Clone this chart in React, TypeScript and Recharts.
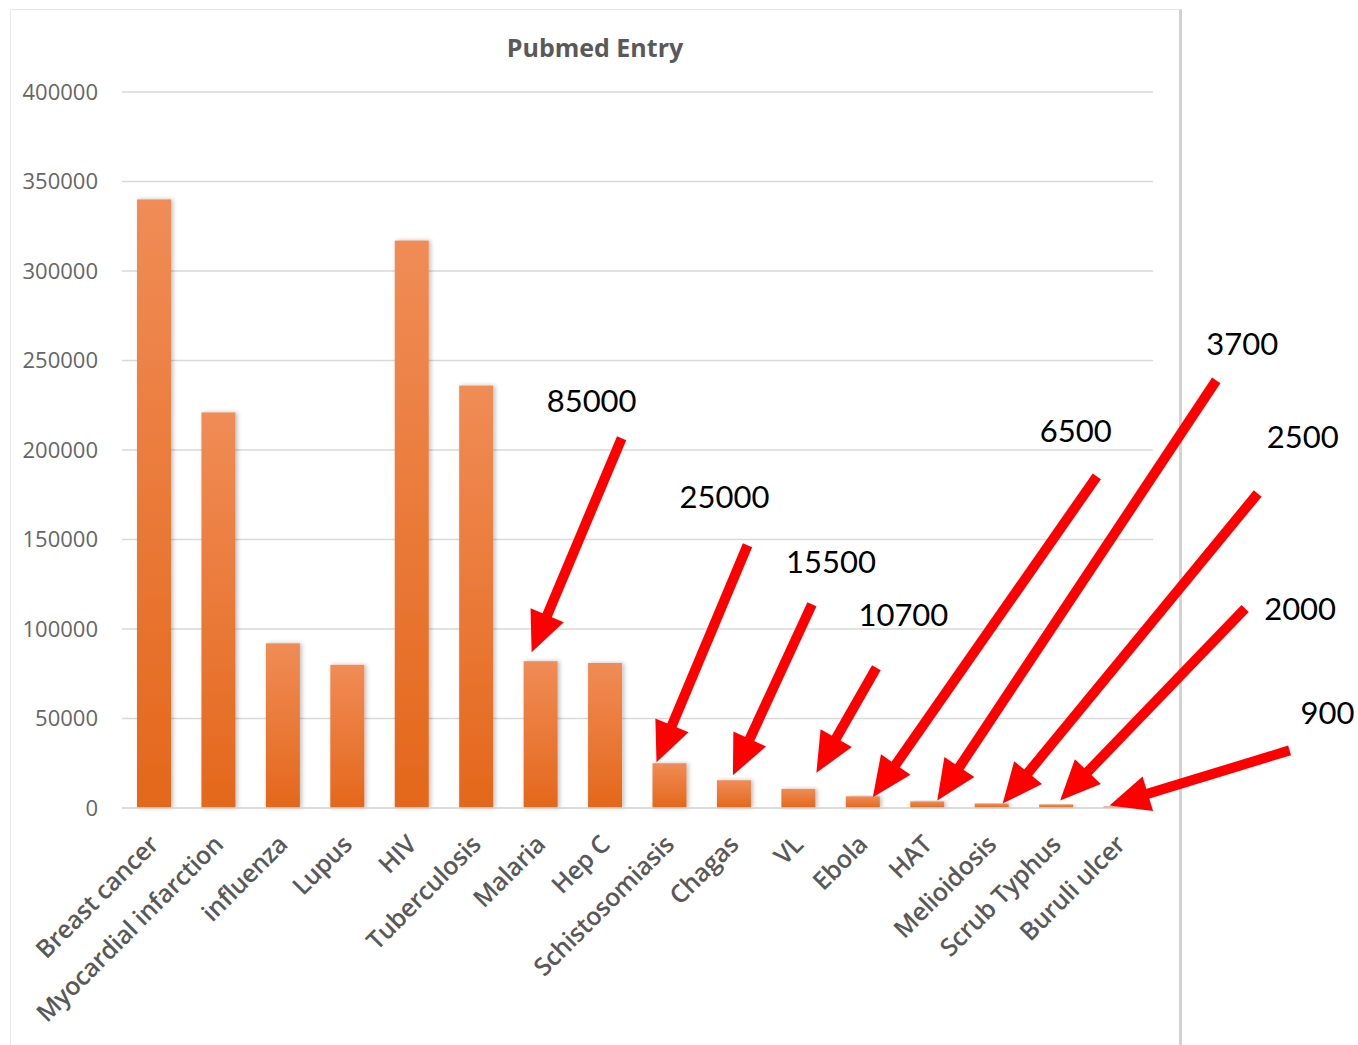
import React from 'react';
import { Bar, BarChart, CartesianGrid, LabelList, XAxis, YAxis } from 'recharts';

// reference values
const diseases = [
  'Breast cancer',
  'Myocardial infarction',
  'influenza',
  'Lupus',
  'HIV',
  'Tuberculosis',
  'Malaria',
  'Hep C',
  'Schistosomiasis',
  'Chagas',
  'VL',
  'Ebola',
  'HAT',
  'Melioidosis',
  'Scrub Typhus',
  'Buruli ulcer',
];
const entries = [
  340000, 221000, 92000, 80000, 317000, 236000, 82000, 81000, 25000, 15500, 10700, 6500,
  3700, 2500, 2000, 900,
];
const yTicks = [0, 50000, 100000, 150000, 200000, 250000, 300000, 350000, 400000];

// red callout labels
const calloutNames = [
  'Malaria',
  'Schistosomiasis',
  'Chagas',
  'VL',
  'Ebola',
  'HAT',
  'Melioidosis',
  'Scrub Typhus',
  'Buruli ulcer',
];
const calloutText = ['85000', '25000', '15500', '10700', '6500', '3700', '2500', '2000', '900'];

// arrow geometry, px offsets from the bar's top centre: tip, tail, label
const calloutGeom: number[][] = [
  [-9, -9, 81, -223, 51, -261],
  [-13, -1, 78, -218, 55, -267],
  [-1, -5, 78, -176, 97, -219],
  [18, -16, 78, -121, 105, -175],
  [10, 1, 234, -320, 213, -366],
  [10, -1, 289, -421, 315, -458],
  [11, 0, 266, -310, 311, -368],
  [4, -4, 189, -196, 244, -196],
  [-11, -1, 169, -56, 207, -94],
];

const data = diseases.map((name, i) => ({ name, value: entries[i] }));

const RED = '#ff0000';
const GREY = '#595959';

function Arrow(props: any) {
  const vb = props.viewBox || props;
  const k = calloutNames.indexOf(props.value);
  if (k < 0 || vb == null) return null;
  const [tdx, tdy, sdx, sdy, ldx, ldy] = calloutGeom[k];
  const cx = vb.x + vb.width / 2;
  const top = vb.y;
  const tx = cx + tdx;
  const ty = top + tdy;
  const sx = cx + sdx;
  const sy = top + sdy;
  const dx = tx - sx;
  const dy = ty - sy;
  const len = Math.sqrt(dx * dx + dy * dy);
  const ux = dx / len;
  const uy = dy / len;
  const head = 40;
  const half = 18;
  const bx = tx - ux * head;
  const by = ty - uy * head;
  const px = -uy;
  const py = ux;
  return (
    <g>
      <line x1={sx} y1={sy} x2={bx + ux * 4} y2={by + uy * 4} stroke={RED} strokeWidth={10} />
      <polygon
        points={`${tx},${ty} ${bx + px * half},${by + py * half} ${bx - px * half},${by - py * half}`}
        fill={RED}
      />
      <text
        x={cx + ldx}
        y={top + ldy}
        textAnchor="middle"
        dominantBaseline="central"
        fontFamily="Lato, 'Open Sans', sans-serif"
        fontSize={31}
        fill="#000"
      >
        {calloutText[k]}
      </text>
    </g>
  );
}

function CategoryTick({ x, y, payload }: any) {
  return (
    <g transform={`translate(${x + 6},${y + 30})`}>
      <text
        transform="rotate(-45)"
        textAnchor="end"
        fontFamily="'Open Sans', sans-serif"
        fontWeight={600}
        fontSize={25}
        letterSpacing={-0.3}
        fill={GREY}
      >
        {payload.value}
      </text>
    </g>
  );
}

function BarShape({ x, y, width, height }: any) {
  if (!height || height <= 0) return null;
  return <rect x={x} y={y} width={width} height={height} fill="url(#barFill)" filter="url(#barShadow)" />;
}

export default function App() {
  return (
    <div style={{ position: 'absolute', left: 0, top: 0, width: 1358, height: 1045, overflow: 'hidden', background: '#fff' }}>
      <div
        style={{
          position: 'absolute',
          left: 10,
          top: 9,
          width: 1168,
          height: 1100,
          borderLeft: '1px solid #e8e8e8',
          borderTop: '1px solid #e8e8e8',
          borderRight: '3px solid #d2d2d2',
        }}
      />
      <div
        style={{
          position: 'absolute',
          left: 10,
          width: 1170,
          top: 29,
          textAlign: 'center',
          fontFamily: "'Open Sans', sans-serif",
          fontWeight: 700,
          fontSize: 25,
          color: GREY,
          lineHeight: '36px',
        }}
      >
        Pubmed Entry
      </div>
      <div style={{ position: 'absolute', left: 0, top: 0 }}>
        <BarChart
          width={1358}
          height={1045}
          data={data}
          margin={{ top: 92, right: 205, left: 12, bottom: 7 }}
        >
          <defs>
            <linearGradient id="barFill" x1="0" y1="0" x2="0" y2="1">
              <stop offset="0%" stopColor="#f08c56" />
              <stop offset="100%" stopColor="#e4671b" />
            </linearGradient>
            <filter id="barShadow" x="-30%" y="-10%" width="160%" height="120%">
              <feDropShadow dx="2" dy="0" stdDeviation="2" floodColor="#000" floodOpacity="0.25" />
            </filter>
          </defs>
          <CartesianGrid vertical={false} stroke="#d9d9d9" strokeWidth={1.5} />
          <XAxis
            dataKey="name"
            interval={0}
            height={230}
            tickLine={false}
            axisLine={{ stroke: '#d9d9d9', strokeWidth: 1.5 }}
            tick={<CategoryTick />}
          />
          <YAxis
            width={110}
            domain={[0, 400000]}
            ticks={yTicks}
            tickLine={false}
            axisLine={false}
            tickMargin={18}
            tick={{ fontFamily: "'Open Sans', sans-serif", fontSize: 22, fill: '#666' }}
          />
          <Bar dataKey="value" barSize={34} shape={<BarShape />} isAnimationActive={false}>
            <LabelList dataKey="name" content={<Arrow />} />
          </Bar>
        </BarChart>
      </div>
    </div>
  );
}
